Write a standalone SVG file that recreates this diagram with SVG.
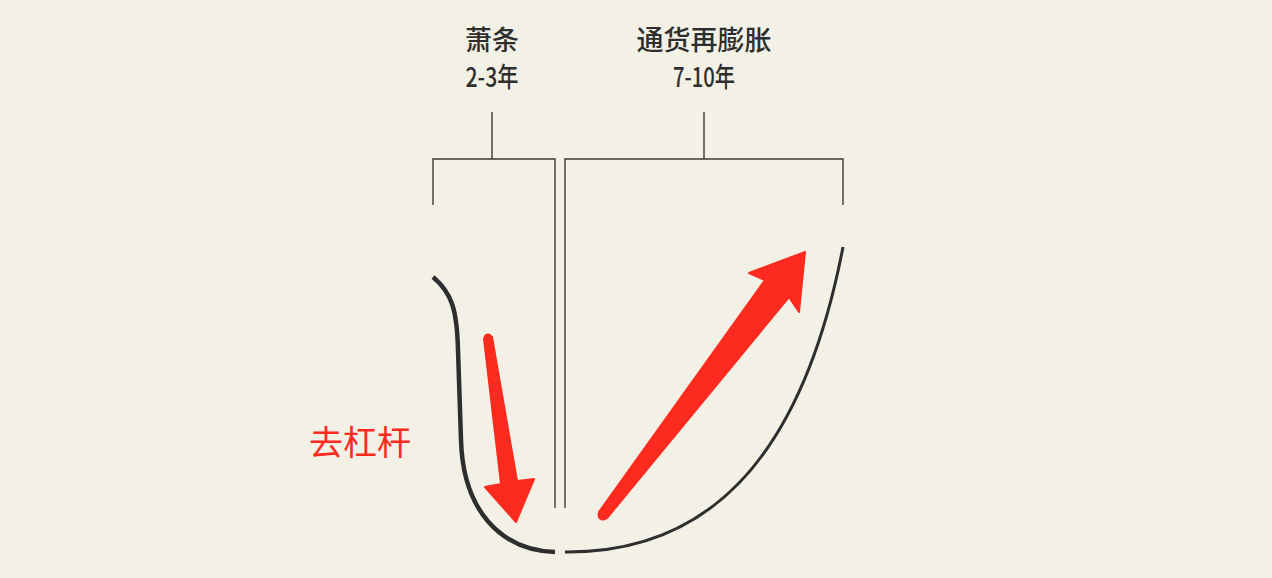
<svg xmlns="http://www.w3.org/2000/svg" width="1272" height="578" viewBox="0 0 1272 578">
<style>
.bg{fill:#f3f1e5}
.br{fill:none;stroke:#3a3a3a;stroke-width:1.4}
.crv{fill:none;stroke:#2e2e2e;stroke-linecap:butt}
.lbl{font-family:"Noto Sans CJK SC","Noto Sans",sans-serif;font-size:27px;font-weight:500;fill:#2e2e2e;text-anchor:middle}
.red{fill:#fc2a1f;stroke:#fc2a1f;stroke-width:2;stroke-linejoin:round}
.redt{font-family:"Noto Sans CJK SC","Noto Sans",sans-serif;font-size:34px;fill:#fc2a1f;text-anchor:middle}
</style>
<rect class="bg" x="0" y="0" width="1272" height="578"/>
<g id="label-depression">
<text class="lbl" x="492" y="50">萧条</text>
<text class="lbl" x="492" y="87" textLength="53" lengthAdjust="spacingAndGlyphs">2-3年</text>
</g>
<g id="label-reflation">
<text class="lbl" x="704" y="50">通货再膨胀</text>
<text class="lbl" x="704" y="87" textLength="62" lengthAdjust="spacingAndGlyphs">7-10年</text>
</g>
<g id="bracket-left">
<path class="br" d="M492,112 V159 M433,205 V159 H555 V508"/>
</g>
<g id="bracket-right">
<path class="br" d="M704,112 V159 M565,508 V159 H843 V205"/>
</g>
<g id="connectors">
<path class="crv" stroke-width="4.5" d="M433,277 C452,293 457,310 458,350 L461,440 C463,510 500,550 555,552"/>
<path class="crv" stroke-width="3" d="M565,552 C700,553 800,470 843,247"/>
</g>
<g id="arrow-down">
<path class="red" d="M484,339 L501,484 L485,487 L516,522 L534,479 L517,481 L492,337 Z"/>
<circle cx="488" cy="338" r="4.5" fill="#fc2a1f"/>
</g>
<g id="arrow-up">
<path class="red" d="M599,512 L765,280 L749,273 L805,252 L799,312 L789,297 L607,518 Z"/>
<circle cx="603" cy="515" r="5.5" fill="#fc2a1f"/>
</g>
<g id="label-deleverage">
<text class="redt" x="360" y="455">去杠杆</text>
</g>
</svg>
